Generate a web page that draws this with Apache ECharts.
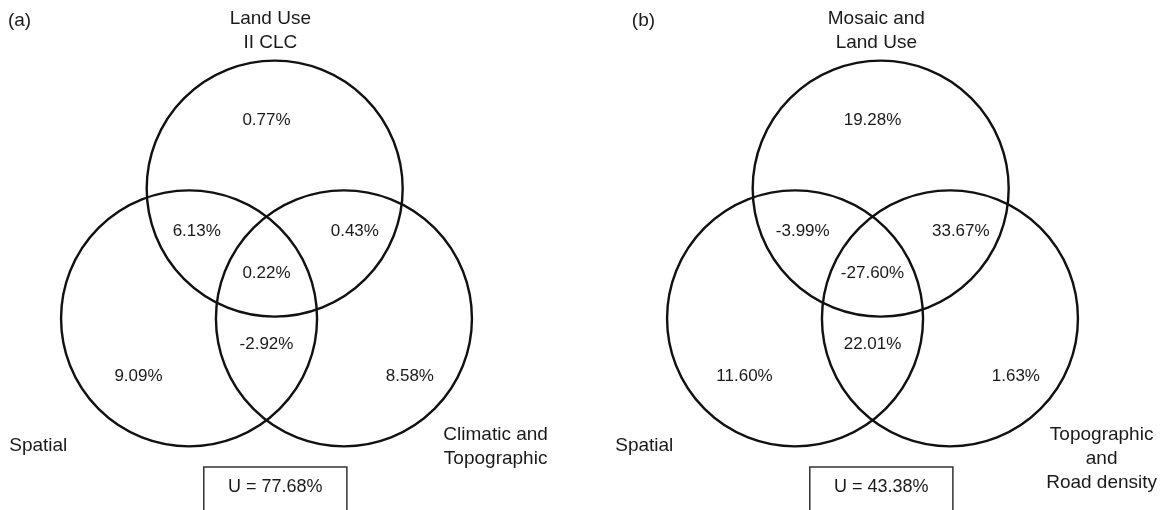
<!DOCTYPE html>
<html>
<head>
<meta charset="utf-8">
<script src="https://cdn.jsdelivr.net/npm/echarts@6/dist/echarts.min.js"></script>
<style>
  html, body { margin: 0; background: #fff; }
  #chart { width: 1165px; height: 510px; }
</style>
</head>
<body>
<div id="chart"></div>
<script>
// panel tags
const panelTags = ["(a)", "(b)"];
// set names, order: top, left, right
const setNamesA = ["Land Use\nII CLC", "Spatial", "Climatic and\nTopographic"];
const setNamesB = ["Mosaic and\nLand Use", "Spatial", "Topographic\nand\nRoad density"];
// regions: top only, top&left, top&right, all three, left&right, left only, right only
const regionKeys = ["T", "TL", "TR", "TLR", "LR", "L", "R"];
const valuesA = [0.77, 6.13, 0.43, 0.22, -2.92, 9.09, 8.58];
const valuesB = [19.28, -3.99, 33.67, -27.6, 22.01, 11.6, 1.63];
const unionA = 77.68;
const unionB = 43.38;

// venn layout, in circle-radius units
const R = 1;
const circleCenters = [[0.064, 1.016], [-0.605, 0], [0.605, 0]];
const regionAnchor = {
  T: [0.0, 1.547],
  TL: [-0.545, 0.68],
  TR: [0.69, 0.68],
  TLR: [0.0, 0.352],
  LR: [0.0, -0.203],
  L: [-1.0, -0.453],
  R: [1.12, -0.453],
};
// name anchors: [x, y, align, verticalAlign]
const nameAnchor = [
  [0.03, 2.44, "center", "top"],
  [-2.01, -1.0, "left", "middle"],
  [1.79, -0.82, "center", "top"],
];
const tagX = [-2.02, -1.88];
const tagY = 2.33;
const boxRange = [-0.49, 0.628, -1.164, -1.53];

const font = "'Liberation Sans', Arial, sans-serif";
const ink = "#1a1a1a";

function circleItem(params, api) {
  const c = api.coord([api.value(0), api.value(1)]);
  const r = api.size([R, R])[0];
  return {
    type: "circle",
    shape: { cx: c[0], cy: c[1], r: r },
    style: { fill: "none", stroke: "#111", lineWidth: 2.4 },
  };
}

function makePanel(idx, names, values, union) {
  const regionData = regionKeys.map((k, i) => [regionAnchor[k][0], regionAnchor[k][1], values[i]]);
  const nameData = nameAnchor.map((a) => [a[0], a[1]]);
  return [
    {
      type: "custom",
      xAxisIndex: idx,
      yAxisIndex: idx,
      silent: true,
      renderItem: circleItem,
      data: circleCenters,
    },
    {
      type: "custom",
      xAxisIndex: idx,
      yAxisIndex: idx,
      silent: true,
      renderItem(params, api) {
        const c = api.coord([api.value(0), api.value(1)]);
        return {
          type: "text",
          x: c[0],
          y: c[1],
          style: {
            text: api.value(2).toFixed(2) + "%",
            font: "17px " + font,
            fill: ink,
            align: "center",
            verticalAlign: "middle",
          },
        };
      },
      data: regionData,
    },
    {
      type: "custom",
      xAxisIndex: idx,
      yAxisIndex: idx,
      silent: true,
      renderItem(params, api) {
        const a = nameAnchor[params.dataIndex];
        const c = api.coord([a[0], a[1]]);
        return {
          type: "text",
          x: c[0],
          y: c[1],
          style: {
            text: names[params.dataIndex],
            font: "19px " + font,
            lineHeight: 24,
            fill: ink,
            align: a[2],
            verticalAlign: a[3],
          },
        };
      },
      data: nameData,
    },
    {
      type: "custom",
      xAxisIndex: idx,
      yAxisIndex: idx,
      silent: true,
      renderItem(params, api) {
        const p0 = api.coord([boxRange[0], boxRange[2]]);
        const p1 = api.coord([boxRange[1], boxRange[3]]);
        const t = api.coord([tagX[idx], tagY]);
        return {
          type: "group",
          children: [
            {
              type: "rect",
              shape: { x: p0[0], y: p0[1], width: p1[0] - p0[0], height: p1[1] - p0[1] },
              style: { fill: "none", stroke: "#333", lineWidth: 1.5 },
            },
            {
              type: "text",
              x: (p0[0] + p1[0]) / 2,
              y: p0[1] + 20,
              style: {
                text: "U = " + api.value(0).toFixed(2) + "%",
                font: "18px " + font,
                fill: ink,
                align: "center",
                verticalAlign: "middle",
              },
            },
            {
              type: "text",
              x: t[0],
              y: t[1],
              style: {
                text: panelTags[idx],
                font: "19px " + font,
                fill: ink,
                align: "left",
                verticalAlign: "middle",
              },
            },
          ],
        };
      },
      data: [[union]],
    },
  ];
}

const chart = echarts.init(document.getElementById("chart"));
const axisBase = { type: "value", show: false, splitLine: { show: false } };
chart.setOption({
  animation: false,
  backgroundColor: "#fff",
  grid: [
    { left: 10.5, top: 11.8, width: 512, height: 499.2 },
    { left: 616.5, top: 11.8, width: 512, height: 499.2 },
  ],
  xAxis: [
    Object.assign({ gridIndex: 0, min: -2, max: 2 }, axisBase),
    Object.assign({ gridIndex: 1, min: -2, max: 2 }, axisBase),
  ],
  yAxis: [
    Object.assign({ gridIndex: 0, min: -1.5, max: 2.4 }, axisBase),
    Object.assign({ gridIndex: 1, min: -1.5, max: 2.4 }, axisBase),
  ],
  series: [].concat(
    makePanel(0, setNamesA, valuesA, unionA),
    makePanel(1, setNamesB, valuesB, unionB)
  ),
});
</script>
</body>
</html>
